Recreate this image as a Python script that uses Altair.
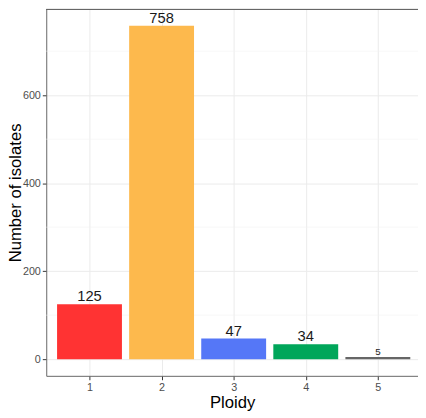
import altair as alt
import pandas as pd

ploidy = [1, 2, 3, 4, 5]
counts = [125, 758, 47, 34, 5]
bar_colors = ["#FF3333", "#FDB94D", "#5577F7", "#00A65A", "#666666"]
y_ticks = [0, 200, 400, 600]
y_minor = [100, 300, 500, 700]

df = pd.DataFrame({"Ploidy": ploidy, "count": counts})
df["label"] = df["count"].astype(str)
df["cat"] = df["Ploidy"].astype(str)
minor_df = pd.DataFrame({"v": y_minor})

W, H = 379, 374
FONT = "Liberation Sans"

xscale = alt.Scale(domain=[0.4, 5.557], nice=False, zero=False)
yscale = alt.Scale(domain=[-37.9, 795.9], nice=False, zero=False)
yaxis = alt.Axis(values=y_ticks, title="Number of isolates", grid=True)

minor = alt.Chart(minor_df).mark_rule(color="#F3F3F3", strokeWidth=0.6).encode(
    y=alt.Y("v:Q", scale=yscale, axis=yaxis)
)

base = alt.Chart(df).transform_calculate(
    x0="datum.Ploidy - 0.45", x1="datum.Ploidy + 0.45"
)

bars = base.mark_bar(stroke=None).encode(
    x=alt.X(
        "x0:Q",
        scale=xscale,
        axis=alt.Axis(values=ploidy, format="d", title="Ploidy", grid=True),
    ),
    x2="x1:Q",
    y=alt.Y("count:Q", scale=yscale, axis=yaxis),
    y2=alt.datum(0),
    color=alt.Color("cat:N", scale=alt.Scale(domain=[str(p) for p in ploidy], range=bar_colors), legend=None),
)

labels = alt.Chart(df).mark_text(baseline="bottom", dy=0, font=FONT, color="#1A1A1A").encode(
    x=alt.X("Ploidy:Q", scale=xscale),
    y=alt.Y("count:Q", scale=yscale),
    text="label:N",
    size=alt.condition("datum.count < 10", alt.value(10), alt.value(15)),
)

top_border = alt.Chart(df).mark_rule(color="#666666", strokeWidth=1).encode(
    x=alt.value(0), x2=alt.value(W), y=alt.value(0.5)
)

chart = alt.layer(minor, bars, labels, top_border).properties(
    width=W, height=H,
    autosize=alt.AutoSizeParams(type="none"),
    padding={"left": 39, "top": -3, "right": 0, "bottom": 40},
).configure_view(stroke=None).configure_axis(
    labelFont=FONT, titleFont=FONT, labelColor="#4D4D4D", labelFontSize=11,
    titleFontSize=17, titleFontWeight="normal", titleColor="#000000",
    gridColor="#EBEBEB", gridWidth=1, domainColor="#666666", domainWidth=1,
    tickColor="#333333", tickSize=4, labelPadding=2,
).configure_axisY(titlePadding=-2).configure_axisX(titlePadding=2)

chart.save("out.html", embed_options={"renderer": "svg", "actions": False})
